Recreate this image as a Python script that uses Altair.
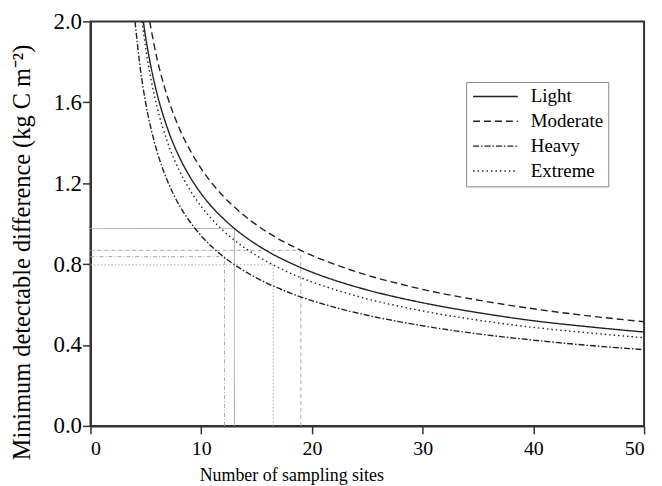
import altair as alt
import pandas as pd

series = ["Light", "Moderate", "Heavy", "Extreme"]

light_x = [4.77, 5, 5.5, 6, 7, 8, 9, 10, 11, 12, 13, 14, 16, 18, 20, 22, 25, 28, 31, 35, 40, 45, 50]
light_y = [2.0, 1.916, 1.765, 1.645, 1.464, 1.332, 1.230, 1.148, 1.081, 1.025, 0.976, 0.934, 0.863,
           0.807, 0.760, 0.721, 0.672, 0.632, 0.598, 0.560, 0.520, 0.490, 0.464]

moderate_x = [5.35, 6, 6.5, 7, 8, 9, 10, 11, 12, 13, 14, 16, 18, 19, 20, 22, 25, 28, 31, 35, 40, 45, 50]
moderate_y = [2.0, 1.818, 1.710, 1.619, 1.474, 1.362, 1.272, 1.198, 1.135, 1.082, 1.035, 0.957, 0.895,
              0.868, 0.843, 0.800, 0.745, 0.701, 0.663, 0.622, 0.579, 0.544, 0.515]

heavy_x = [4.02, 4.5, 5, 5.5, 6, 7, 8, 9, 10, 11, 12, 13, 14, 16, 18, 20, 22, 25, 28, 31, 35, 40, 45, 50]
heavy_y = [2.0, 1.767, 1.593, 1.462, 1.359, 1.205, 1.093, 1.008, 0.940, 0.884, 0.837, 0.797, 0.762,
           0.704, 0.658, 0.619, 0.587, 0.547, 0.514, 0.486, 0.455, 0.424, 0.398, 0.377]

extreme_x = [4.66, 5, 5.5, 6, 7, 8, 9, 10, 11, 12, 13, 14, 16, 16.5, 18, 20, 22, 25, 28, 31, 35, 40, 45, 50]
extreme_y = [2.0, 1.862, 1.704, 1.580, 1.396, 1.265, 1.165, 1.085, 1.020, 0.965, 0.918, 0.878, 0.810,
             0.796, 0.756, 0.712, 0.675, 0.628, 0.590, 0.558, 0.523, 0.487, 0.460, 0.436]

# reference (sites needed, MDD) for each intensity
ref_x = [13, 19, 12.1, 16.5]
ref_y = [0.976, 0.868, 0.837, 0.796]

x_ticks = [0, 10, 20, 30, 40, 50]
y_ticks = [0.0, 0.4, 0.8, 1.2, 1.6, 2.0]

curve_dash = [[1, 0], [7, 4], [6, 2, 1.5, 2], [1.5, 3]]
ref_dash = [[1, 0], [4, 3], [4, 2, 1, 2], [1.5, 2]]

rows = []
for name, xs, ys in zip(series, [light_x, moderate_x, heavy_x, extreme_x],
                        [light_y, moderate_y, heavy_y, extreme_y]):
    for i, (a, b) in enumerate(zip(xs, ys)):
        rows.append({"series": name, "x": a, "y": b, "i": i})
df = pd.DataFrame(rows)

ref_df = pd.DataFrame({"series": series, "rx": ref_x, "ry": ref_y, "zero": [0.0] * 4})

FONT = "Liberation Serif"

xscale = alt.Scale(domain=[0, 50], nice=False)
yscale = alt.Scale(domain=[0, 2], nice=False)

layers = []
for name, d in zip(series, ref_dash):
    base = alt.Chart(ref_df).transform_filter(alt.datum.series == name)
    h = base.mark_rule(color="#aaaaaa", strokeWidth=1, strokeDash=d).encode(
        x=alt.X("zero:Q", scale=xscale), x2="rx:Q", y=alt.Y("ry:Q", scale=yscale))
    v = base.mark_rule(color="#aaaaaa", strokeWidth=1, strokeDash=d).encode(
        x=alt.X("rx:Q", scale=xscale), y=alt.Y("zero:Q", scale=yscale), y2="ry:Q")
    layers += [h, v]

lines = alt.Chart(df).mark_line(color="#222222", strokeWidth=1.4, interpolate="monotone", clip=True).encode(
    x=alt.X("x:Q", scale=xscale,
            axis=alt.Axis(values=x_ticks, title="Number of sampling sites", format="d",
                          labelFont=FONT, labelFontSize=20, labelPadding=5, titleFontSize=18,
                          titleX=202, titleY=55, titleAlign="center", titleBaseline="alphabetic")),
    y=alt.Y("y:Q", scale=yscale,
            axis=alt.Axis(values=y_ticks, format=".1f", title="Minimum detectable difference (kg C m\u207b\u00b2)",
                          labelFont=FONT, labelFontSize=23, labelPadding=1, titleFontSize=24.5,
                          titleX=-68, titleY=232, titleAngle=-90, titleAlign="center",
                          titleBaseline="middle")),
    strokeDash=alt.StrokeDash("series:N", sort=series,
                              scale=alt.Scale(domain=series, range=curve_dash),
                              legend=alt.Legend(title=None, orient="none", legendX=378, legendY=61,
                                                symbolType="M-1,0H5", symbolSize=225,
                                                symbolStrokeWidth=1.4, symbolStrokeColor="#222222",
                                                labelFont=FONT, labelFontSize=19, labelColor="black",
                                                labelOffset=41, rowPadding=5, padding=5,
                                                strokeColor="#888888", fillColor="white")),
    order="i:Q",
)

chart = alt.layer(*layers, lines).properties(
    width=557, height=407,
    autosize=alt.AutoSizeParams(type="none"),
    padding={"left": 83, "top": 12, "right": 10, "bottom": 59},
).configure(font=FONT).configure_view(stroke="#333333", strokeWidth=2).configure_axis(
    labelFont=FONT, titleFont=FONT, labelColor="black", titleColor="black",
    titleFontWeight="normal", domainColor="#333333", domainWidth=2,
    tickColor="#333333", tickWidth=1.5, tickSize=8, grid=False,
).configure_legend(labelFont=FONT)

chart.save("out.html", embed_options={"renderer": "svg", "actions": False})
